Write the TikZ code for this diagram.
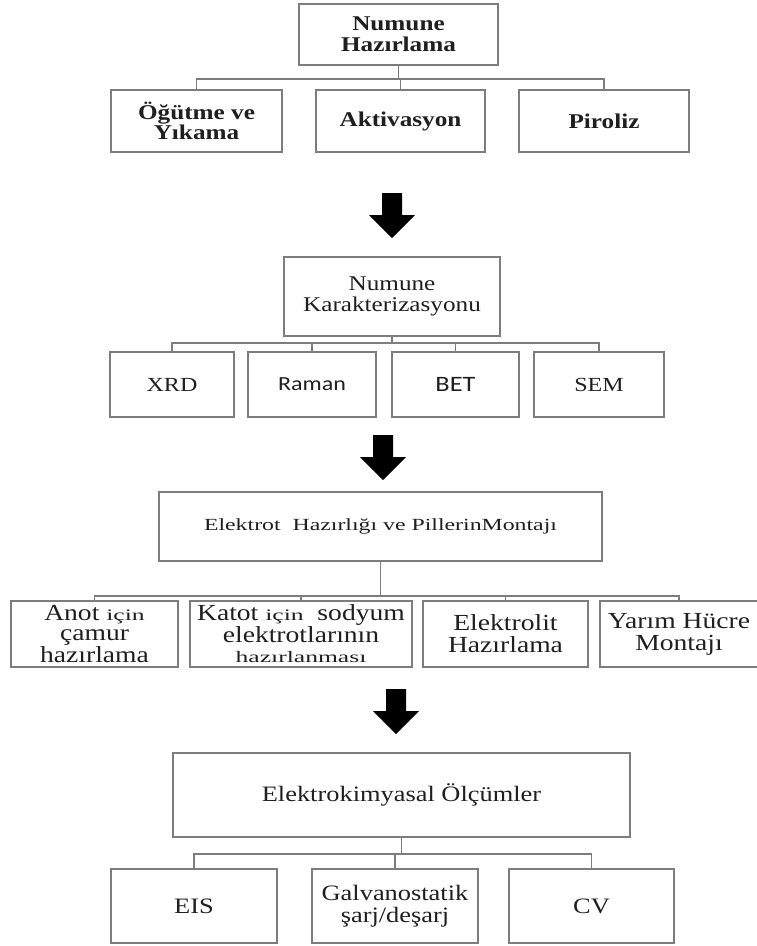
\documentclass[tikz,border=0pt]{standalone}
\usepackage{fontspec}
\setmainfont[FakeStretch=1.2]{Liberation Serif}
\newfontfamily\calfont[FakeStretch=1.2]{Carlito}
\newfontfamily\wideserif[FakeStretch=1.4]{Liberation Serif}
\newfontfamily\widerserif[FakeStretch=1.6]{Liberation Serif}
\newcommand{\smw}[1]{{\widerserif\fontsize{16}{20}\selectfont #1}}
\definecolor{boxgray}{RGB}{125,125,125}

\begin{document}
\begin{tikzpicture}[x=1pt,y=-1pt]
			\tikzset{box/.style={draw=boxgray,line width=1.8pt,fill=white,align=center,inner sep=1pt,text=black!88}}
			\tikzset{bus/.style={draw=boxgray,line width=1.8pt}}
			\useasboundingbox (0,0) rectangle (756,946);
			% Numune hazirlama
			\node[box,font=\bfseries\fontsize{21}{21}\selectfont,minimum width=199,minimum height=61] (nh) at (398.5,34.5) {Numune\\Hazırlama};
			\node[box,font=\bfseries\fontsize{21}{20}\selectfont,minimum width=171,minimum height=62] (og) at (196.5,121) {Öğütme ve\\Yıkama};
			\node[box,font=\bfseries\fontsize{21}{20}\selectfont,minimum width=169,minimum height=62] (akt) at (400.5,121) {Aktivasyon};
			\node[box,font=\bfseries\fontsize{21}{20}\selectfont,minimum width=170,minimum height=62] (pir) at (604,121) {Piroliz};
			% Karakterizasyon
			\node[box,font=\fontsize{21}{21}\selectfont,minimum width=216,minimum height=79] (nk) at (392,296.5) {Numune\\Karakterizasyonu};
			\node[box,font=\fontsize{20}{20}\selectfont,minimum width=124,minimum height=65] (xrd) at (172,384.5) {XRD};
			\node[box,font=\calfont\fontsize{20}{20}\selectfont,minimum width=128,minimum height=65] (ram) at (312,384.5) {Raman};
			\node[box,font=\calfont\fontsize{22}{20}\selectfont,minimum width=127,minimum height=65] (bet) at (455.5,384.5) {BET};
			\node[box,font=\fontsize{20}{20}\selectfont,minimum width=130,minimum height=65] (sem) at (599,384.5) {SEM};
			% Elektrot ve pil
			\node[box,font=\wideserif\fontsize{17}{20}\selectfont,minimum width=443,minimum height=69] (elk) at (380.5,526.5) {Elektrot~~Hazırlığı ve PillerinMontajı};
			\node[box,font=\fontsize{23}{20}\selectfont,minimum width=167,minimum height=66] (ano) at (94.5,634) {Anot \smw{için}\\çamur\\hazırlama};
			\node[box,font=\fontsize{23}{20}\selectfont,minimum width=222,minimum height=66] (kat) at (301,634) {Katot \smw{için}~ sodyum\\elektrotlarının\\\smw{hazırlanması}};
			\node[box,font=\fontsize{23}{22}\selectfont,minimum width=165,minimum height=66] (lit) at (505.5,634) {Elektrolit\\Hazırlama};
			\node[box,font=\fontsize{23}{22}\selectfont,minimum width=158,minimum height=66] (yar) at (679,634) {Yarım Hücre\\Montajı};
			% Olcumler
			\node[box,font=\fontsize{22}{22}\selectfont,minimum width=457,minimum height=84] (ol) at (401.5,795) {Elektrokimyasal Ölçümler};
			\node[box,font=\fontsize{22}{22}\selectfont,minimum width=166,minimum height=74] (eis) at (194,906) {EIS};
			\node[box,font=\fontsize{22}{22}\selectfont,minimum width=166,minimum height=74] (gal) at (395,906) {Galvanostatik\\şarj/deşarj};
			\node[box,font=\fontsize{22}{22}\selectfont,minimum width=165,minimum height=74] (cv) at (591.5,906) {CV};
			% Tree lines
			\draw[bus] (nh.south) -- ++(0,13) coordinate (j1);
			\foreach \c in {og,akt,pir} \draw[bus] (j1) -| (\c.north);
			\draw[bus] (nk.south) -- ++(0,6) coordinate (j2);
			\foreach \c in {xrd,ram,bet,sem} \draw[bus] (j2) -| (\c.north);
			\draw[bus] (elk.south) -- ++(0,34) coordinate (j3);
			\foreach \c in {ano,kat,lit,yar} \draw[bus] (j3) -| (\c.north);
			\draw[bus] (ol.south) -- ++(0,16) coordinate (j4);
			\foreach \c in {eis,gal,cv} \draw[bus] (j4) -| (\c.north);
			% Block arrows
			\foreach \cx/\ty in {392/193,383/435,396/689}
			\fill[black] (\cx-10,\ty) -- (\cx+10,\ty) -- (\cx+10,\ty+22) -- (\cx+23,\ty+22) -- (\cx,\ty+45) -- (\cx-23,\ty+22) -- (\cx-10,\ty+22) -- cycle;
\end{tikzpicture}
\end{document}
